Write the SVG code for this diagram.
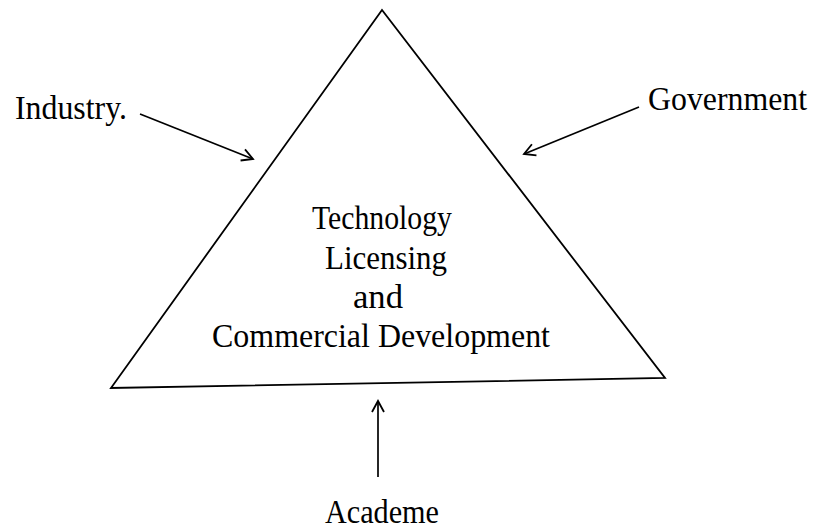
<svg xmlns="http://www.w3.org/2000/svg" width="813" height="529" viewBox="0 0 813 529">
<defs>
<style>
.lbl{font-family:"Liberation Serif","Times New Roman",serif;font-size:33px;fill:#000;}
.edge{fill:none;stroke:#000;stroke-width:1.8;}
.con{fill:none;stroke:#000;stroke-width:1.7;marker-end:url(#arr);}
</style>
<marker id="arr" markerUnits="userSpaceOnUse" markerWidth="16" markerHeight="16" viewBox="-13 -8 16 16" refX="0" refY="0" orient="auto">
<path d="M-11,-6 L0,0 L-11,6" fill="none" stroke="#000" stroke-width="1.8"/>
</marker>
</defs>
<rect width="813" height="529" fill="#fff"/>
<g id="triangle">
<polygon class="edge" points="382,10 111,388 665,378" stroke-linejoin="miter"/>
<text class="lbl" x="382" y="229" text-anchor="middle" textLength="140" lengthAdjust="spacingAndGlyphs">Technology</text>
<text class="lbl" x="386" y="269" text-anchor="middle" textLength="122" lengthAdjust="spacingAndGlyphs">Licensing</text>
<text class="lbl" x="378" y="308" text-anchor="middle" textLength="50" lengthAdjust="spacingAndGlyphs">and</text>
<text class="lbl" x="381" y="347" text-anchor="middle" textLength="338" lengthAdjust="spacingAndGlyphs">Commercial Development</text>
</g>
<g id="industry">
<text class="lbl" x="15" y="119" textLength="112" lengthAdjust="spacingAndGlyphs">Industry.</text>
</g>
<g id="government">
<text class="lbl" x="648" y="110" textLength="159" lengthAdjust="spacingAndGlyphs">Government</text>
</g>
<g id="academe">
<text class="lbl" x="325" y="523" textLength="114" lengthAdjust="spacingAndGlyphs">Academe</text>
</g>
<g id="connectors">
<line class="con" x1="140" y1="114" x2="253" y2="159"/>
<line class="con" x1="639" y1="107" x2="524" y2="154"/>
<line class="con" x1="378" y1="477" x2="378" y2="401"/>
</g>
</svg>
